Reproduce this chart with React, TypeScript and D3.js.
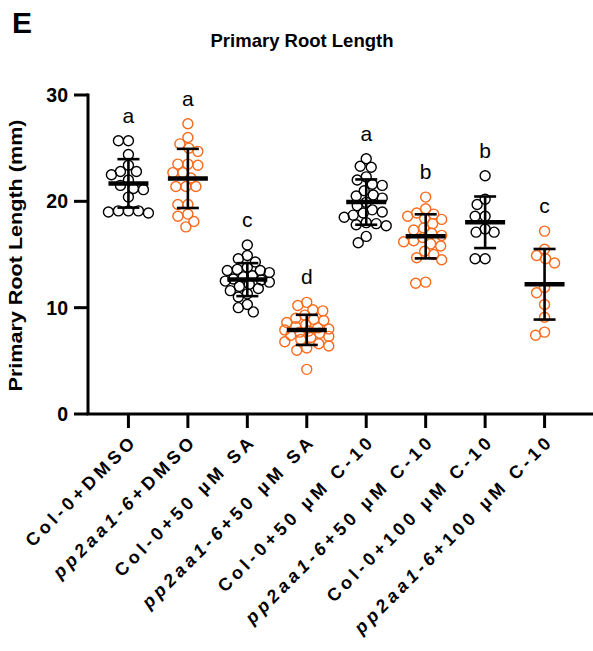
import React, { useEffect, useRef } from 'react';
import * as d3 from 'd3';

// groups on the x axis: [strain, treatment]
const strains = ['Col-0', 'pp2aa1-6', 'Col-0', 'pp2aa1-6', 'Col-0', 'pp2aa1-6', 'Col-0', 'pp2aa1-6'];
const treatments = ['+DMSO', '+DMSO', '+50 µM SA', '+50 µM SA', '+50 µM C-10', '+50 µM C-10', '+100 µM C-10', '+100 µM C-10'];
const letters = ['a', 'a', 'c', 'd', 'a', 'b', 'b', 'c'];
const yTicks = [0, 10, 20, 30];

// primary root length (mm), one value per seedling
const colDmso = [25.7, 25.7, 24.4, 23.4, 22.8, 22.8, 22.5, 22.0, 21.5, 21.2, 21.1, 20.4, 19.1, 19.1, 19.0, 19.1, 18.9];
const ppDmso = [27.3, 26.0, 25.4, 25.0, 24.7, 23.5, 23.5, 23.4, 22.7, 22.7, 22.2, 21.4, 21.4, 21.4, 19.7, 19.7, 18.8, 18.6, 18.1, 17.6];
const colSa = [15.9, 14.9, 14.6, 14.3, 13.8, 13.6, 13.5, 13.5, 13.3, 13.0, 12.9, 12.7, 12.6, 12.5, 12.4, 12.2, 12.0, 11.8, 11.6, 11.3, 11.0, 10.3, 10.0, 9.6];
const ppSa = [10.5, 10.2, 9.8, 9.7, 9.3, 9.0, 8.9, 8.8, 8.6, 8.4, 8.2, 8.1, 8.0, 7.9, 7.8, 7.7, 7.6, 7.4, 7.3, 7.2, 7.0, 6.8, 6.6, 6.4, 6.2, 6.0, 4.2];
const colC50 = [24.0, 23.3, 23.2, 22.3, 22.0, 21.6, 21.5, 21.0, 20.6, 20.5, 20.3, 19.9, 19.6, 19.2, 19.0, 18.9, 18.7, 18.5, 18.0, 17.9, 17.8, 17.7, 16.7, 16.1];
const ppC50 = [20.4, 19.3, 18.9, 18.8, 18.6, 18.4, 18.3, 17.9, 17.5, 17.3, 17.0, 16.8, 16.6, 16.3, 16.2, 16.0, 15.8, 15.3, 15.0, 14.7, 14.5, 12.4, 12.3];
const colC100 = [22.4, 20.2, 19.7, 18.6, 18.6, 17.4, 17.1, 17.1, 14.6, 14.6];
const ppC100 = [17.2, 15.5, 14.9, 14.6, 14.2, 11.9, 11.4, 10.3, 9.1, 7.7, 7.4];

const series = [colDmso, ppDmso, colSa, ppSa, colC50, ppC50, colC100, ppC100];

const BLACK = '#000';
const ORANGE = '#fa6a1c';
const FONT = '"Liberation Sans", Arial, Helvetica, sans-serif';

// simple beeswarm: nearest free offset, or least overlap inside maxW
function swarm(vals: number[], cx: number, y: (v: number) => number, r: number, maxW: number) {
  const placed: { x: number; y: number }[] = [];
  const minD = r * 1.9;
  const sorted = [...vals].sort((a, b) => b - a);
  sorted.forEach(v => {
    const py = y(v);
    let best = 0;
    let bestOv = Infinity;
    for (let k = 0; k <= maxW * 2; k++) {
      const off = k % 2 === 0 ? k / 2 : -(k + 1) / 2;
      if (Math.abs(off) > maxW) continue;
      let ov = 0;
      placed.forEach(p => {
        const dd = Math.hypot(p.x - (cx + off), p.y - py);
        if (dd < minD) ov += minD - dd;
      });
      if (ov < bestOv - 0.01) {
        bestOv = ov;
        best = off;
      }
      if (ov === 0) break;
    }
    placed.push({ x: cx + best, y: py });
  });
  return placed;
}

export default function App() {
  const ref = useRef<SVGSVGElement>(null);

  useEffect(() => {
    const width = 593;
    const height = 651;
    const left = 88;
    const bottom = 414;
    const top = 95;

    const svg = d3.select(ref.current);
    svg.selectAll('*').remove();
    svg.attr('width', width).attr('height', height);

    const x = d3.scalePoint<number>()
      .domain(d3.range(series.length))
      .range([left, width - 8])
      .padding(0.68);
    const y = d3.scaleLinear().domain([0, 30]).range([bottom, top]);

    const g = svg.append('g').attr('font-family', FONT);

    // panel letter + title
    g.append('text').attr('x', 12).attr('y', 33).attr('font-size', 30).attr('font-weight', 'bold').text('E');
    g.append('text').attr('x', 302).attr('y', 47).attr('text-anchor', 'middle')
      .attr('font-size', 18.5).attr('font-weight', 'bold').text('Primary Root Length');

    // axes
    g.append('line').attr('x1', left).attr('x2', left).attr('y1', top - 1.5).attr('y2', bottom)
      .attr('stroke', BLACK).attr('stroke-width', 3);
    g.append('line').attr('x1', left - 1.5).attr('x2', width).attr('y1', bottom).attr('y2', bottom)
      .attr('stroke', BLACK).attr('stroke-width', 3);

    yTicks.forEach(t => {
      g.append('line').attr('x1', left - 14).attr('x2', left).attr('y1', y(t)).attr('y2', y(t))
        .attr('stroke', BLACK).attr('stroke-width', 3);
      g.append('text').attr('x', left - 20).attr('y', y(t)).attr('dy', '0.36em')
        .attr('text-anchor', 'end').attr('font-size', 19.5).attr('font-weight', 'bold').text(t);
    });

    g.append('text')
      .attr('transform', `translate(22,${(top + bottom) / 2 + 1}) rotate(-90)`)
      .attr('text-anchor', 'middle').attr('font-size', 18).attr('font-weight', 'bold')
      .attr('textLength', 272).attr('lengthAdjust', 'spacingAndGlyphs')
      .text('Primary Root Length (mm)');

    series.forEach((vals, i) => {
      const cx = x(i)!;
      const col = i % 2 === 0 ? BLACK : ORANGE;

      // x tick
      g.append('line').attr('x1', cx).attr('x2', cx).attr('y1', bottom).attr('y2', bottom + 14)
        .attr('stroke', BLACK).attr('stroke-width', 3);

      // category label
      const lab = g.append('text')
        .attr('transform', `translate(${cx + 10},${bottom + 28}) rotate(-45)`)
        .attr('text-anchor', 'end').attr('font-size', 18).attr('font-weight', 'bold')
        .attr('letter-spacing', 4);
      lab.append('tspan').attr('font-style', strains[i] === 'pp2aa1-6' ? 'italic' : 'normal').text(strains[i]);
      lab.append('tspan').text(treatments[i]);

      // points
      const pts = swarm(vals, cx, y, 5, 22);
      g.append('g').selectAll('circle').data(pts).enter().append('circle')
        .attr('cx', d => d.x).attr('cy', d => d.y).attr('r', 5)
        .attr('fill', 'none').attr('stroke', col).attr('stroke-width', 1.4);

      // mean ± SD
      const m = d3.mean(vals)!;
      const sd = d3.deviation(vals)!;
      const eb = g.append('g').attr('stroke', BLACK);
      eb.append('line').attr('x1', cx).attr('x2', cx).attr('y1', y(m + sd)).attr('y2', y(m - sd)).attr('stroke-width', 2.6);
      [m + sd, m - sd].forEach(v => {
        eb.append('line').attr('x1', cx - 11).attr('x2', cx + 11).attr('y1', y(v)).attr('y2', y(v)).attr('stroke-width', 2.6);
      });
      eb.append('line').attr('x1', cx - 20).attr('x2', cx + 20).attr('y1', y(m)).attr('y2', y(m)).attr('stroke-width', 4.5);

      // significance letter
      g.append('text').attr('x', cx).attr('y', y(d3.max(vals)!) - 18)
        .attr('text-anchor', 'middle').attr('font-size', 21).text(letters[i]);
    });
  }, []);

  return (
    <svg ref={ref} style={{ position: 'absolute', left: 0, top: 0, background: '#fff' }} />
  );
}
